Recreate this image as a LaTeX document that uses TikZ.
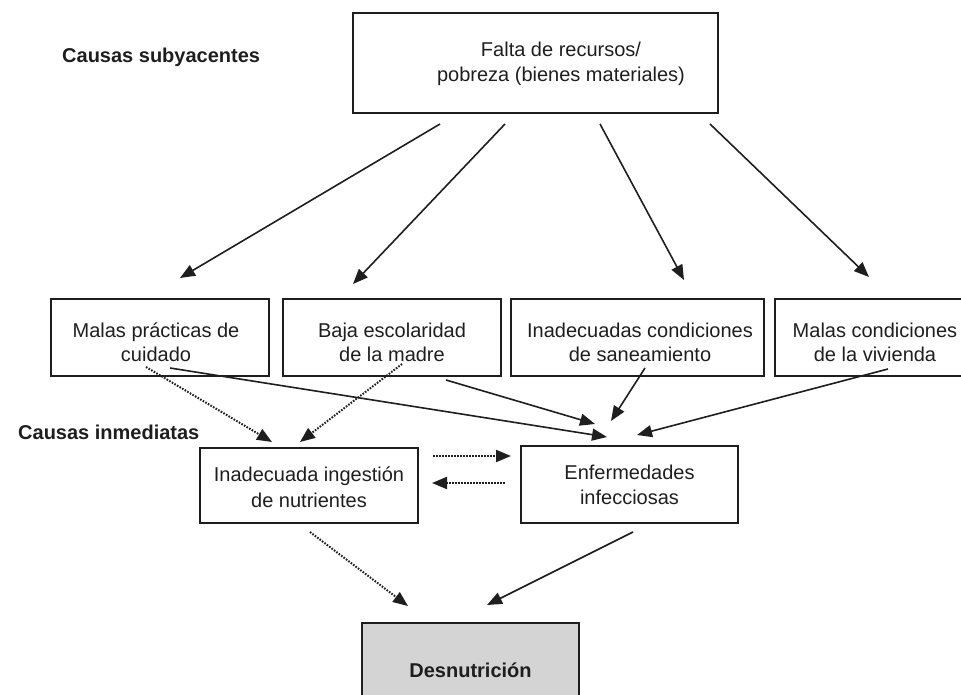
\documentclass[tikz,border=0pt]{standalone}
\usepackage{fontspec}
\setmainfont{Liberation Sans}
\usetikzlibrary{arrows.meta}
\definecolor{ink}{HTML}{1E1E1E}
\definecolor{boxgray}{HTML}{D4D4D4}
\tikzset{
  box/.style={draw=ink, line width=1.3pt, inner sep=0pt},
  txt/.style={align=center, text=ink, font=\fontsize{20}{24}\selectfont, inner sep=0pt},
  lbl/.style={font=\bfseries\fontsize{20}{23}\selectfont, text=ink, anchor=west, inner sep=0pt},
  arr/.style={draw=ink, line width=1.6pt, -{Triangle[length=15pt,width=12pt]}},
  darr/.style={draw=ink, line width=2pt, dash pattern=on 1.6pt off 1.4pt, -{Triangle[length=15pt,width=12pt]}},
}
\begin{document}
\begin{tikzpicture}[x=1pt,y=-1pt]
\useasboundingbox (0,0) rectangle (961,695);
% labels
\node[lbl] (lsub) at (62,57) {Causas subyacentes};
\node[lbl] (linm) at (18,432) {Causas inmediatas};
% boxes
\node[box, minimum width=365pt, minimum height=100pt] (top) at (535.5,63) {};
\node[txt, font=\fontsize{20}{25}\selectfont] (topt) at (561,64) {Falta de recursos/\\pobreza (bienes materiales)};
\node[box, minimum width=218pt, minimum height=77pt] (b1) at (160,337.5) {};
\node[txt] (b1t) at (156,342) {Malas prácticas de\\cuidado};
\node[box, minimum width=218pt, minimum height=77pt] (b2) at (392,337.5) {};
\node[txt] (b2t) at (392,342) {Baja escolaridad\\de la madre};
\node[box, minimum width=253pt, minimum height=77pt] (b3) at (637.5,337.5) {};
\node[txt] (b3t) at (640,342) {Inadecuadas condiciones\\de saneamiento};
\node[box, minimum width=200pt, minimum height=77pt] (b4) at (875,337.5) {};
\node[txt] (b4t) at (875,342) {Malas condiciones\\de la vivienda};
\node[box, minimum width=218pt, minimum height=75pt] (ing) at (309,485.5) {};
\node[txt, font=\fontsize{20}{26}\selectfont] (ingt) at (309,487) {Inadecuada ingestión\\de nutrientes};
\node[box, minimum width=217pt, minimum height=77pt] (enf) at (629.5,484.5) {};
\node[txt, font=\fontsize{20}{25}\selectfont] (enft) at (629.5,485) {Enfermedades\\infecciosas};
\node[box, fill=boxgray, minimum width=217pt, minimum height=100pt] (des) at (470.5,673) {};
\node[txt, font=\bfseries\fontsize{20}{24}\selectfont] (dest) at (470.5,670) {Desnutrición};
% connector end points
\coordinate (s1) at (440,124); \coordinate (e1) at (180,278);
\coordinate (s2) at (505,124); \coordinate (e2) at (353,284);
\coordinate (s3) at (600,124); \coordinate (e3) at (684,280);
\coordinate (s4) at (710,124); \coordinate (e4) at (869,277);
\coordinate (c1) at (170,368); \coordinate (f1) at (607,437);
\coordinate (c2) at (446,380); \coordinate (f2) at (595,424);
\coordinate (c3) at (645,368); \coordinate (f3) at (611,421);
\coordinate (c4) at (888,369); \coordinate (f4) at (637,435);
\coordinate (d1) at (146,367); \coordinate (g1) at (272,442);
\coordinate (d2) at (402,364); \coordinate (g2) at (300,442);
\coordinate (h1) at (433,456); \coordinate (h2) at (511,456);
\coordinate (h3) at (505,483); \coordinate (h4) at (432,483);
\coordinate (k1) at (310,532); \coordinate (k2) at (408,606);
\coordinate (m1) at (633,532); \coordinate (m2) at (487,605);
% arrows
\draw[arr] (s1) -- (e1);
\draw[arr] (s2) -- (e2);
\draw[arr] (s3) -- (e3);
\draw[arr] (s4) -- (e4);
\draw[arr] (c1) -- (f1);
\draw[arr] (c2) -- (f2);
\draw[arr] (c3) -- (f3);
\draw[arr] (c4) -- (f4);
\draw[darr] (d1) -- (g1);
\draw[darr] (d2) -- (g2);
\draw[darr] (h1) -- (h2);
\draw[darr] (h3) -- (h4);
\draw[darr] (k1) -- (k2);
\draw[arr] (m1) -- (m2);
\end{tikzpicture}
\end{document}
